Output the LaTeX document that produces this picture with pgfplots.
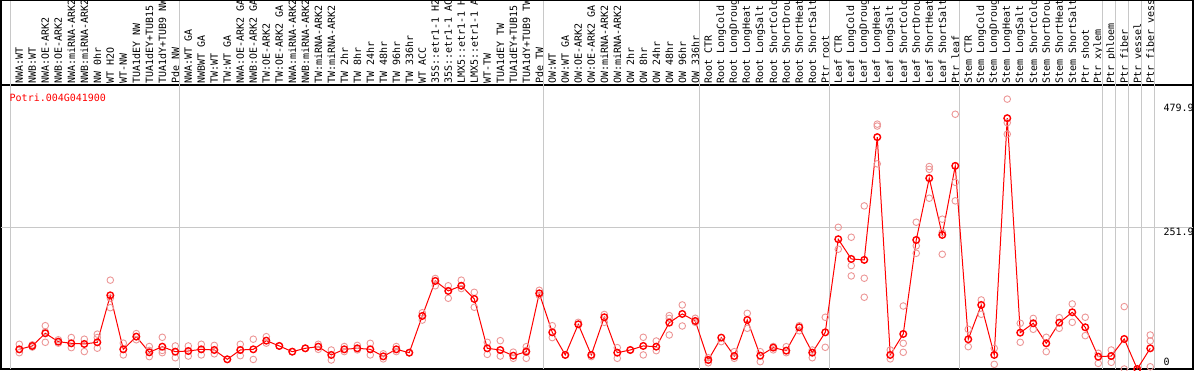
\documentclass[border=0pt]{standalone}
\usepackage{pgfplots}
\pgfplotsset{compat=1.18}
\usepackage{fontspec}
\newfontfamily\mono{DejaVu Sans Mono}
\definecolor{rep}{RGB}{236,150,150}
\definecolor{sepc}{RGB}{200,200,200}
\newcommand{\lblfont}{\mono\fontsize{5pt}{5pt}\selectfont}
\begin{document}
\begin{tikzpicture}
\begin{axis}[
  scale only axis, width=596pt, height=142pt,
  xmin=-1.408, xmax=90.29, ymin=0, ymax=505,
  clip=false,
  axis line style={black, line width=0.6pt},
  xtick={0,...,87},
  xticklabels={NWA:WT,NWB:WT,NWA:OE-ARK2,NWB:OE-ARK2,NWA:miRNA-ARK2,NWB:miRNA-ARK2,NW 0hr,WT H2O,WT-NW,TUA1dEY NW,TUA1dEY+TUB15,TUA1dY+TUB9 NW,Pde NW,
  NWA:WT GA,NWBWT GA,TW:WT,TW:WT GA,NWA:OE-ARK2 GA,NWB:OE-ARK2 GA,TW:OE-ARK2,TW:OE-ARK2 GA,NWA:miRNA-ARK2,NWB:miRNA-ARK2,TW:miRNA-ARK2,TW:miRNA-ARK2,TW 2hr,TW 8hr,TW 24hr,TW 48hr,TW 96hr,TW 336hr,WT ACC,35S::etr1-1 H2,35S::etr1-1 AC,LMX5::etr1-1 H,LMX5::etr1-1 A,WT-TW,TUA1dEY TW,TUA1dEY+TUB15,TUA1dY+TUB9 TW,Pde TW,
  OW:WT,OW:WT GA,OW:OE-ARK2,OW:OE-ARK2 GA,OW:miRNA-ARK2,OW:miRNA-ARK2,OW 2hr,OW 8hr,OW 24hr,OW 48hr,OW 96hr,OW 336hr,
  Root CTR,Root LongCold,Root LongDroug,Root LongHeat,Root LongSalt,Root ShortCold,Root ShortDrou,Root ShortHeat,Root ShortSalt,Ptr root,
  Leaf CTR,Leaf LongCold,Leaf LongDroug,Leaf LongHeat,Leaf LongSalt,Leaf ShortCold,Leaf ShortDrou,Leaf ShortHeat,Leaf ShortSalt,Ptr leaf,
  Stem CTR,Stem LongCold,Stem LongDroug,Stem LongHeat,Stem LongSalt,Stem ShortCold,Stem ShortDrou,Stem ShortHeat,Stem ShortSalt,Ptr shoot,Ptr xylem,Ptr phloem,Ptr fiber,Ptr vessel,Ptr fiber vess},
  xticklabel pos=right,
  major tick length=0pt,
  xticklabel style={rotate=90, anchor=west, font=\lblfont, inner sep=0.8pt, xshift=-0.15pt},
  ytick=\empty,
]
\coordinate (bbA) at (rel axis cs:0,0);
\coordinate (bbB) at (rel axis cs:1,1);
% separators
\pgfplotsinvokeforeach{-0.662,12.338,40.338,52.338,62.338,72.338,83.338,84.338,85.338,86.338,87.338}{
  \draw[sepc, line width=0.5pt] (axis cs:#1,0) -- (axis cs:#1,656.2);
}
\draw[sepc, line width=0.5pt] (axis cs:-1.408,251.9) -- (axis cs:90.29,251.9);
\draw[black, line width=0.6pt] (rel axis cs:0,1) -- (rel axis cs:0,1.2975) -- (rel axis cs:1,1.2975) -- (rel axis cs:1,1);
% replicates
\addplot[color=rep, only marks, mark=o, mark size=1.65pt, mark options={line width=0.45pt}] table {
x y
0 44
0 29
0 35
1 43
1 39
2 77
2 47.5
2 66
3 52
3 46
4 56
4 38
5 53
5 31
6 62
6 37
6 56
7 158
7 109
7 126
8 46
8 25
9 63
9 52
10 40
10 22
10 33
11 56.4
11 29
11 33
12 41
12 20
13 41
13 23
14 44
14 25
15 42
15 27
16 17.2
17 44
17 23.7
18 53
18 17
19 57.5
19 46
20 41
21 30.8
22 36.8
23 44
23 35
24 33.8
24 16
25 40
25 31
26 42
26 34
27 45.7
27 25
28 27
28 18
29 40
29 31
30 29
31 100
31 87
32 161
32 148
33 148
33 125.8
34 158
34 143
35 136.4
35 109.8
36 47.5
36 26
37 50.4
37 23
38 30
38 19
39 39.7
39 19
39 33
40 140
40 131
41 77
41 55.8
42 25
43 83
44 22
45 97
45 83
46 38
46 19
47 33.8
48 56.4
48 25
49 49.8
49 32.6
50 94.9
50 60.5
50 90
51 113.9
51 76.5
52 90.2
52 83
53 20
53 11
54 48.6
55 30.8
55 19
56 99
56 72.4
57 30.8
57 13
58 40
58 34
59 39.7
59 29
60 77
60 68
61 33.8
61 20
62 92
62 38.6
63 252
63 213
64 234.3
64 183.8
64 165.5
65 290
65 161.4
65 127.6
66 435.4
66 364.8
66 432
67 33.8
67 18
68 112
68 45.7
68 29.7
69 261
69 219
69 205.8
70 360
70 303.7
70 355
71 266.4
71 243
71 204
72 453
72 332
72 299
73 70.6
73 39.7
74 122.8
74 97.3
75 36.8
75 8.3
76 479.9
76 417.6
76 438
77 81.3
77 47.5
78 90
78 70.6
79 56.4
79 30.8
80 91.3
80 72.4
81 115.7
81 83
82 92
82 59.3
83 28
83 10
84 33.8
84 11.9
85 110.9
85 0
86 0
87 60.5
87 49.8
87 4
};
% means
\addplot[red, line width=0.5pt, mark=o, mark size=1.65pt, mark options={line width=0.7pt}] table {
x y
0 35
1 41
2 63.5
3 48.6
4 45.7
5 44.5
6 47.5
7 131
8 35
9 57.5
10 29.7
11 39.7
12 30.8
13 32
14 35
15 33.8
16 17.2
17 33.8
18 35
19 50.4
20 41
21 30.8
22 36.8
23 39.7
24 25
25 35
26 36.8
27 35
28 22.5
29 35
30 29
31 94.3
32 156.6
33 138.8
34 148
35 124.6
36 36.8
37 33.8
38 23.7
39 30.8
40 134.6
41 65.2
42 25
43 79.5
44 25
45 92
46 29
47 33.8
48 41
49 39.7
50 82.4
51 97.9
52 85.4
53 16
54 55.8
55 23
56 87.2
57 23.7
58 38
59 32.6
60 74.2
61 29
62 65.2
63 230.8
64 195.7
65 194
66 412.3
67 25
68 62.3
69 229.5
70 339.3
71 238.4
72 361.2
73 52.8
74 113.9
75 25
76 446
77 64.6
78 81.3
79 45.7
80 82.4
81 100.9
82 74.2
83 21.9
84 23.1
85 53.4
86 0
87 36.8
};
\node[anchor=west, red, font=\lblfont, inner sep=0pt] at (axis cs:-0.77,483) {Potri.004G041900};
\node[anchor=west, font=\lblfont, inner sep=0pt] at (axis cs:88.0,464.6) {479.9};
\node[anchor=west, font=\lblfont, inner sep=0pt] at (axis cs:88.0,244.1) {251.9};
\node[anchor=west, font=\lblfont, inner sep=0pt] at (axis cs:88.0,13) {0};
\end{axis}
\pgfresetboundingbox
\useasboundingbox ([shift={(-0.5pt,-0.5pt)}]bbA) rectangle ([shift={(0.5pt,42.5pt)}]bbB);
\end{tikzpicture}
\end{document}
